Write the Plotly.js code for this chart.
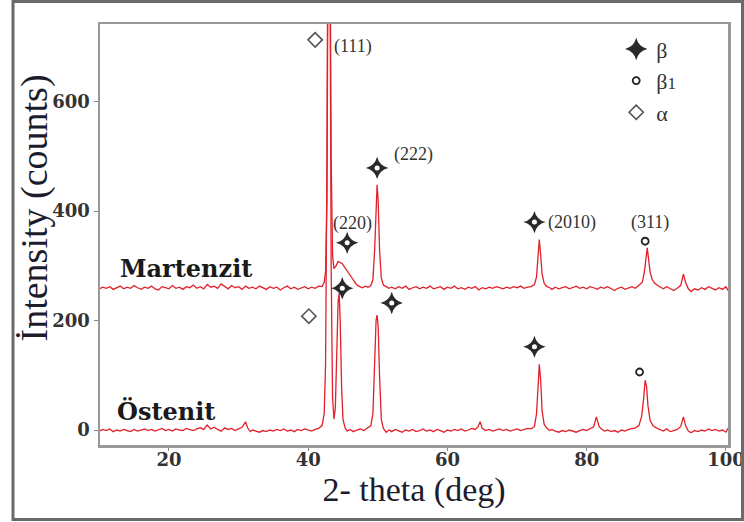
<!DOCTYPE html>
<html>
<head>
<meta charset="utf-8">
<script src="https://cdn.plot.ly/plotly-3.0.1.min.js"></script>
<style>html,body{margin:0;padding:0;background:#fff;}#chart{width:744px;height:522px;}</style>
</head>
<body>
<div id="chart"></div>
<script>
// XRD pattern, Martenzit (2-theta, counts)
const martenzit = [
[10,258],[10.5,261],[11,259],[11.5,262],[12,257],[12.5,260],[13,263],[13.5,258],[14,261],[14.5,259],
[15,264],[15.5,260],[16,257],[16.5,261],[17,259],[17.5,263],[18,258],[18.5,256],[19,262],[19.5,260],
[20,258],[20.5,264],[21,259],[21.5,261],[22,257],[22.5,262],[23,260],[23.5,265],[24,259],[24.5,262],
[25,258],[25.5,266],[26,261],[26.5,263],[27,259],[27.5,267],[28,262],[28.5,258],[29,264],[29.5,260],
[30,262],[30.5,257],[31,263],[31.5,259],[32,261],[32.5,258],[33,263],[33.5,260],[34,257],[34.5,262],
[35,259],[35.5,261],[36,256],[36.5,260],[37,263],[37.5,258],[38,261],[38.5,257],[39,260],[39.5,262],
[40,258],[40.5,261],[41,259],[41.5,263],[42,262],[42.3,270],[42.5,290],[42.7,420],[42.85,900],[43.0,1300],
[43.15,900],[43.3,500],[43.5,320],[43.7,295],[44.0,300],[44.3,308],[44.6,306],[44.9,304],[45.2,298],[45.5,293],
[45.8,288],[46.1,283],[46.4,276],[46.7,270],[47.0,265],[47.4,262],[47.8,260],[48.2,263],[48.6,261],[49.0,264],
[49.3,275],[49.55,330],[49.75,420],[49.9,448],[50.05,420],[50.25,330],[50.5,278],[50.8,265],[51.2,262],[51.6,259],
[52,261],[52.5,258],[53,262],[53.5,259],[54,263],[54.5,257],[55,260],[55.5,262],[56,258],[56.5,261],
[57,259],[57.5,263],[58,258],[58.5,260],[59,262],[59.5,257],[60,261],[60.5,259],[61,263],[61.5,258],
[62,260],[62.5,257],[63,261],[63.5,259],[64,262],[64.5,256],[65,260],[65.5,258],[66,261],[66.5,259],
[67,262],[67.5,260],[68,258],[68.5,261],[69,259],[69.5,262],[70,260],[70.5,263],[71,259],[71.5,261],
[72,262],[72.5,266],[72.8,280],[73.0,315],[73.2,348],[73.4,318],[73.6,285],[73.9,268],[74.3,262],[74.7,260],
[75,257],[75.5,261],[76,258],[76.5,260],[77,262],[77.5,258],[78,261],[78.5,263],[79,259],[79.5,261],
[80,258],[80.5,262],[81,260],[81.5,257],[82,261],[82.5,259],[83,262],[83.5,258],[84,255],[84.5,259],
[85,261],[85.5,257],[86,260],[86.5,262],[87,259],[87.5,264],[88,270],[88.3,290],[88.5,315],[88.7,333],
[88.9,312],[89.1,290],[89.4,275],[89.8,268],[90.2,264],[90.6,261],[91,258],[91.5,262],[92,258],[92.5,255],
[93,259],[93.5,264],[93.9,285],[94.2,270],[94.6,258],[95,253],[95.5,258],[96,256],[96.5,260],[97,257],
[97.5,262],[98,259],[98.5,256],[99,260],[99.5,257],[100,262],[100.3,255]
];
// XRD pattern, Östenit (2-theta, counts)
const ostenit = [
[10,-2],[10.5,1],[11,-1],[11.5,2],[12,-3],[12.5,0],[13,-2],[13.5,1],[14,-1],[14.5,-3],
[15,1],[15.5,-2],[16,0],[16.5,2],[17,-1],[17.5,1],[18,-2],[18.5,0],[19,3],[19.5,-1],
[20,1],[20.5,-2],[21,2],[21.5,0],[22,-1],[22.5,3],[23,1],[23.5,-1],[24,2],[24.5,4],
[25,1],[25.5,9],[26,2],[26.5,5],[27,1],[27.5,-2],[28,4],[28.5,1],[29,3],[29.5,-1],
[30,2],[30.5,5],[31,15],[31.3,4],[31.7,-3],[32,0],[32.5,-2],[33,-4],[33.5,-1],[34,-3],
[34.5,0],[35,-2],[35.5,1],[36,-1],[36.5,2],[37,-2],[37.5,0],[38,-3],[38.5,1],[39,-1],
[39.5,2],[40,0],[40.5,-2],[41,1],[41.5,3],[42,8],[42.3,30],[42.5,120],[42.7,500],[42.85,1000],
[43.0,1200],[43.15,800],[43.3,300],[43.5,60],[43.7,20],[43.9,40],[44.1,140],[44.3,235],[44.45,250],[44.6,200],
[44.8,80],[45.0,20],[45.3,4],[45.6,-2],[46,1],[46.5,-3],[47,0],[47.5,2],[48,-1],[48.5,3],
[49,8],[49.3,30],[49.55,130],[49.75,200],[49.9,210],[50.05,190],[50.25,100],[50.5,20],[50.8,3],[51.2,-4],
[51.6,0],[52,-3],[52.5,1],[53,-2],[53.5,-4],[54,0],[54.5,-2],[55,1],[55.5,-3],[56,-1],
[56.5,2],[57,-2],[57.5,0],[58,-3],[58.5,1],[59,-1],[59.5,-4],[60,0],[60.5,-2],[61,1],
[61.5,-1],[62,2],[62.5,-2],[63,0],[63.5,3],[64,1],[64.4,6],[64.7,15],[65,3],[65.5,-1],
[66,1],[66.5,-2],[67,0],[67.5,2],[68,-1],[68.5,1],[69,-2],[69.5,0],[70,2],[70.5,-1],
[71,1],[71.5,3],[72,2],[72.5,6],[72.8,30],[73.0,85],[73.2,120],[73.4,90],[73.6,35],[73.9,10],
[74.3,3],[74.7,-1],[75,1],[75.5,-2],[76,-4],[76.5,-1],[77,-3],[77.5,0],[78,-2],[78.5,-4],
[79,-1],[79.5,1],[80,-1],[80.5,2],[81,6],[81.4,24],[81.8,6],[82.2,1],[82.6,-2],[83,0],
[83.5,-3],[84,-1],[84.5,-4],[85,0],[85.5,-2],[86,1],[86.5,3],[87,4],[87.5,8],[87.9,25],
[88.2,60],[88.4,91],[88.6,80],[88.8,45],[89.1,18],[89.5,8],[90,4],[90.5,1],[91,-2],[91.5,2],
[92,-3],[92.5,-1],[93,1],[93.5,6],[93.9,24],[94.2,8],[94.6,-2],[95,-5],[95.5,-1],[96,-3],
[96.5,0],[97,-2],[97.5,2],[98,-1],[98.5,1],[99,-2],[99.5,0],[100,-4],[100.3,3]
];
// Phase markers
const betaX  = [49.9, 45.6, 44.9, 52.0, 72.5, 72.5];
const betaY  = [479, 342, 259, 232, 380, 152];
const beta1X = [88.4, 87.6];
const beta1Y = [345, 106];
const alphaX = [41.0, 40.1];
const alphaY = [713, 208];
// Peak (hkl) labels
const peakLabels = ['(111)', '(222)', '(220)', '(2010)', '(311)'];
const peakLabelX = [46.4, 55.1, 46.3, 77.9, 89.1];
const peakLabelY = [700, 503, 378, 379, 379];
// Curve names
const curveNames = ['Martenzit', 'Östenit'];
const curveNameX = [22.4, 19.6];
const curveNameY = [296, 33];
const xTicks = [20, 40, 60, 80, 100];
const yTicks = [0, 200, 400, 600];

const red = 'rgb(226,32,42)';
const serif = 'Liberation Serif, Times New Roman, serif';
const traces = [
  {x: martenzit.map(p => p[0]), y: martenzit.map(p => p[1]), mode: 'lines', name: 'Martenzit',
   line: {color: red, width: 1.3}, showlegend: false, hoverinfo: 'skip'},
  {x: ostenit.map(p => p[0]), y: ostenit.map(p => p[1]), mode: 'lines', name: 'Östenit',
   line: {color: red, width: 1.3}, showlegend: false, hoverinfo: 'skip'},
  {x: betaX, y: betaY, mode: 'markers', name: 'β', cliponaxis: false,
   marker: {symbol: 'star-diamond', size: 16, color: '#2a2a2a', line: {width: 0}}},
  {x: betaX, y: betaY, mode: 'markers', showlegend: false, cliponaxis: false, hoverinfo: 'skip',
   marker: {symbol: 'circle', size: 5, color: '#ffffff', line: {width: 0}}},
  {x: beta1X, y: beta1Y, mode: 'markers', name: 'β<span style="font-size:17px">1</span>', cliponaxis: false,
   marker: {symbol: 'circle-open', size: 7, color: '#222', line: {width: 1.8, color: '#222'}}},
  {x: alphaX, y: alphaY, mode: 'markers', name: 'α', cliponaxis: false,
   marker: {symbol: 'diamond-open', size: 11, color: '#555', line: {width: 1.6, color: '#555'}}}
];

const annotations = [];
peakLabels.forEach((t, i) => annotations.push({
  x: peakLabelX[i], y: peakLabelY[i], xref: 'x', yref: 'y', text: t, showarrow: false,
  font: {family: serif, size: 18, color: '#333'}
}));
curveNames.forEach((t, i) => annotations.push({
  x: curveNameX[i], y: curveNameY[i], xref: 'x', yref: 'y', text: t, showarrow: false,
  font: {family: 'DejaVu Serif', size: 24, color: '#1a1a1a', weight: 'bold'}
}));
annotations.push({
  x: -0.105, y: 0.562, xref: 'paper', yref: 'paper', xanchor: 'center', yanchor: 'middle',
  text: 'İntensity (counts)', textangle: -90,
  showarrow: false, font: {family: serif, size: 38, color: '#1c1c2c'}
});

const layout = {
  width: 744, height: 522,
  margin: {l: 100, r: 16, t: 24, b: 77},
  paper_bgcolor: '#fff', plot_bgcolor: '#fff',
  showlegend: true,
  legend: {x: 0.822, y: 0.99, xanchor: 'left', yanchor: 'top', bgcolor: 'rgba(0,0,0,0)',
           font: {family: serif, size: 22, color: '#333'}, itemsizing: 'trace', tracegroupgap: 0},
  xaxis: {
    range: [10.1, 100.3], tickvals: xTicks, showgrid: false, zeroline: false,
    showline: true, mirror: true, linecolor: '#999', linewidth: 2.5,
    ticks: 'outside', ticklen: 3, tickcolor: '#888', ticklabelstandoff: -6, ticklabeloverflow: 'allow',
    tickfont: {family: 'DejaVu Serif', size: 18, color: '#333', weight: 'bold'},
    title: {text: '2- theta (deg)', standoff: 8, font: {family: serif, size: 34, color: '#1c1c2c'}}
  },
  yaxis: {
    range: [-27.4, 742], tickvals: yTicks, showgrid: false, zeroline: false,
    showline: true, mirror: true, linecolor: '#999', linewidth: 2.5,
    ticks: 'outside', ticklen: 4, tickcolor: '#888',
    tickfont: {family: 'DejaVu Serif', size: 18, color: '#333', weight: 'bold'}
  },
  annotations: annotations,
  shapes: [{type: 'rect', xref: 'paper', yref: 'paper',
            x0: (13 - 100) / 628, x1: (742.5 - 100) / 628, y0: (445 - 519.5) / 421, y1: (445 - 1.5) / 421,
            line: {color: '#6a6a6a', width: 3}, fillcolor: 'rgba(0,0,0,0)', layer: 'above'}]
};

Plotly.newPlot('chart', traces, layout, {displayModeBar: false, staticPlot: true});
</script>
</body>
</html>
